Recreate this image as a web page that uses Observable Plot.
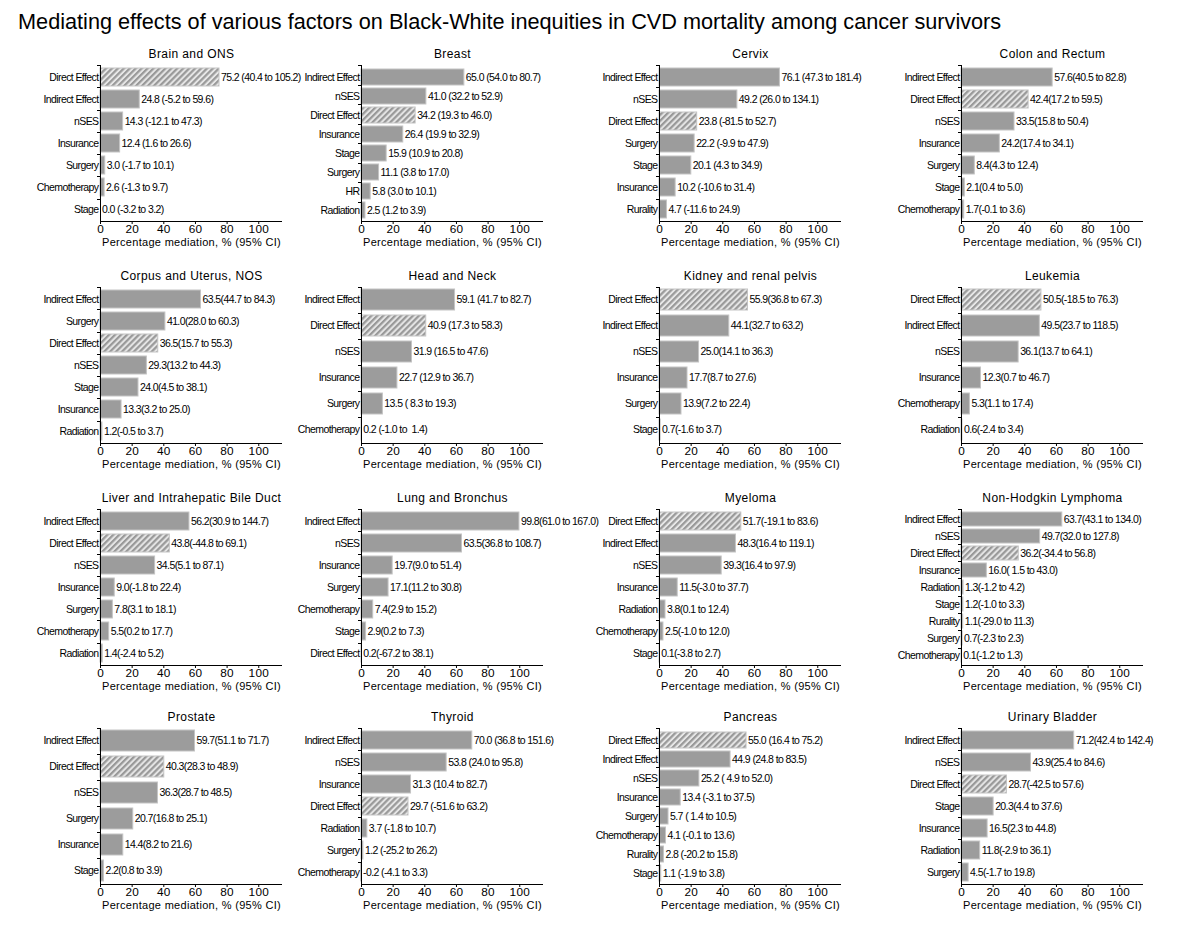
<!DOCTYPE html>
<html>
<head>
<meta charset="utf-8">
<script src="https://cdn.jsdelivr.net/npm/d3@7"></script>
<script src="https://cdn.jsdelivr.net/npm/@observablehq/plot@0.6"></script>
<style>
  body { margin: 0; background: #fff; }
  #root { position: relative; width: 1200px; height: 927px; overflow: hidden; background: #fff; font-family: "Liberation Sans", Arial, sans-serif; }
  #title { position: absolute; left: 18px; top: 11px; font-size: 21.7px; line-height: 22px; white-space: nowrap; color: #000; }
  .panel { position: absolute; }
  .panel svg { overflow: visible; }
  g[aria-label="x-axis tick label"] text { letter-spacing: 0.2px; }
</style>
</head>
<body>
<svg width="0" height="0" style="position:absolute">
  <defs>
    <pattern id="hatch" patternUnits="userSpaceOnUse" width="4.2" height="4.2" patternTransform="rotate(45)">
      <rect width="4.2" height="4.2" fill="#e6e6e6"></rect>
      <rect width="2.2" height="4.2" fill="#999999"></rect>
    </pattern>
  </defs>
</svg>
<div id="root">
  <div id="title">Mediating effects of various factors on Black-White inequities in CVD mortality among cancer survivors</div>
</div>
<script>
const panelTitles = [
  "Brain and ONS", "Breast", "Cervix", "Colon and Rectum",
  "Corpus and Uterus, NOS", "Head and Neck", "Kidney and renal pelvis", "Leukemia",
  "Liver and Intrahepatic Bile Duct", "Lung and Bronchus", "Myeloma", "Non-Hodgkin Lymphoma",
  "Prostate", "Thyroid", "Pancreas", "Urinary Bladder"
];

const factorLabels = [
  ["Direct Effect", "Indirect Effect", "nSES", "Insurance", "Surgery", "Chemotherapy", "Stage"],
  ["Indirect Effect", "nSES", "Direct Effect", "Insurance", "Stage", "Surgery", "HR", "Radiation"],
  ["Indirect Effect", "nSES", "Direct Effect", "Surgery", "Stage", "Insurance", "Rurality"],
  ["Indirect Effect", "Direct Effect", "nSES", "Insurance", "Surgery", "Stage", "Chemotherapy"],
  ["Indirect Effect", "Surgery", "Direct Effect", "nSES", "Stage", "Insurance", "Radiation"],
  ["Indirect Effect", "Direct Effect", "nSES", "Insurance", "Surgery", "Chemotherapy"],
  ["Direct Effect", "Indirect Effect", "nSES", "Insurance", "Surgery", "Stage"],
  ["Direct Effect", "Indirect Effect", "nSES", "Insurance", "Chemotherapy", "Radiation"],
  ["Indirect Effect", "Direct Effect", "nSES", "Insurance", "Surgery", "Chemotherapy", "Radiation"],
  ["Indirect Effect", "nSES", "Insurance", "Surgery", "Chemotherapy", "Stage", "Direct Effect"],
  ["Direct Effect", "Indirect Effect", "nSES", "Insurance", "Radiation", "Chemotherapy", "Stage"],
  ["Indirect Effect", "nSES", "Direct Effect", "Insurance", "Radiation", "Stage", "Rurality", "Surgery", "Chemotherapy"],
  ["Indirect Effect", "Direct Effect", "nSES", "Surgery", "Insurance", "Stage"],
  ["Indirect Effect", "nSES", "Insurance", "Direct Effect", "Radiation", "Surgery", "Chemotherapy"],
  ["Direct Effect", "Indirect Effect", "nSES", "Insurance", "Surgery", "Chemotherapy", "Rurality", "Stage"],
  ["Indirect Effect", "nSES", "Direct Effect", "Stage", "Insurance", "Radiation", "Surgery"]
];

const mediationValues = [
  [75.2, 24.8, 14.3, 12.4, 3.0, 2.6, 0.0],
  [65.0, 41.0, 34.2, 26.4, 15.9, 11.1, 5.8, 2.5],
  [76.1, 49.2, 23.8, 22.2, 20.1, 10.2, 4.7],
  [57.6, 42.4, 33.5, 24.2, 8.4, 2.1, 1.7],
  [63.5, 41.0, 36.5, 29.3, 24.0, 13.3, 1.2],
  [59.1, 40.9, 31.9, 22.7, 13.5, 0.2],
  [55.9, 44.1, 25.0, 17.7, 13.9, 0.7],
  [50.5, 49.5, 36.1, 12.3, 5.3, 0.6],
  [56.2, 43.8, 34.5, 9.0, 7.8, 5.5, 1.4],
  [99.8, 63.5, 19.7, 17.1, 7.4, 2.9, 0.2],
  [51.7, 48.3, 39.3, 11.5, 3.8, 2.5, 0.1],
  [63.7, 49.7, 36.2, 16.0, 1.3, 1.2, 1.1, 0.7, 0.1],
  [59.7, 40.3, 36.3, 20.7, 14.4, 2.2],
  [70.0, 53.8, 31.3, 29.7, 3.7, 1.2, -0.2],
  [55.0, 44.9, 25.2, 13.4, 5.7, 4.1, 2.8, 1.1],
  [71.2, 43.9, 28.7, 20.3, 16.5, 11.8, 4.5]
];

const ciLabels = [
  [" (40.4 to 105.2)", " (-5.2 to 59.6)", " (-12.1 to 47.3)", " (1.6 to 26.6)", " (-1.7 to 10.1)", " (-1.3 to 9.7)", " (-3.2 to 3.2)"],
  [" (54.0 to 80.7)", " (32.2 to 52.9)", " (19.3 to 46.0)", " (19.9 to 32.9)", " (10.9 to 20.8)", " (3.8 to 17.0)", " (3.0 to 10.1)", " (1.2 to 3.9)"],
  [" (47.3 to 181.4)", " (26.0 to 134.1)", " (-81.5 to 52.7)", " (-9.9 to 47.9)", " (4.3 to 34.9)", " (-10.6 to 31.4)", " (-11.6 to 24.9)"],
  ["(40.5 to 82.8)", "(17.2 to 59.5)", "(15.8 to 50.4)", "(17.4 to 34.1)", "(4.3 to 12.4)", "(0.4 to 5.0)", "(-0.1 to 3.6)"],
  ["(44.7 to 84.3)", "(28.0 to 60.3)", "(15.7 to 55.3)", "(13.2 to 44.3)", "(4.5 to 38.1)", "(3.2 to 25.0)", "(-0.5 to 3.7)"],
  [" (41.7 to 82.7)", " (17.3 to 58.3)", " (16.5 to 47.6)", " (12.9 to 36.7)", " ( 8.3 to 19.3)", " (-1.0 to  1.4)"],
  ["(36.8 to 67.3)", "(32.7 to 63.2)", "(14.1 to 36.3)", "(8.7 to 27.6)", "(7.2 to 22.4)", "(-1.6 to 3.7)"],
  ["(-18.5 to 76.3)", "(23.7 to 118.5)", "(13.7 to 64.1)", "(0.7 to 46.7)", "(1.1 to 17.4)", "(-2.4 to 3.4)"],
  ["(30.9 to 144.7)", "(-44.8 to 69.1)", "(5.1 to 87.1)", "(-1.8 to 22.4)", "(3.1 to 18.1)", "(0.2 to 17.7)", "(-2.4 to 5.2)"],
  ["(61.0 to 167.0)", "(36.8 to 108.7)", "(9.0 to 51.4)", "(11.2 to 30.8)", "(2.9 to 15.2)", "(0.2 to 7.3)", "(-67.2 to 38.1)"],
  ["(-19.1 to 83.6)", "(16.4 to 119.1)", "(16.4 to 97.9)", "(-3.0 to 37.7)", "(0.1 to 12.4)", "(-1.0 to 12.0)", "(-3.8 to 2.7)"],
  ["(43.1 to 134.0)", "(32.0 to 127.8)", "(-34.4 to 56.8)", "( 1.5 to 43.0)", "(-1.2 to 4.2)", "(-1.0 to 3.3)", "(-29.0 to 11.3)", "(-2.3 to 2.3)", "(-1.2 to 1.3)"],
  ["(51.1 to 71.7)", "(28.3 to 48.9)", "(28.7 to 48.5)", "(16.8 to 25.1)", "(8.2 to 21.6)", "(0.8 to 3.9)"],
  [" (36.8 to 151.6)", " (24.0 to 95.8)", " (10.4 to 82.7)", " (-51.6 to 63.2)", " (-1.8 to 10.7)", " (-25.2 to 26.2)", " (-4.1 to 3.3)"],
  [" (16.4 to 75.2)", " (24.8 to 83.5)", " ( 4.9 to 52.0)", " (-3.1 to 37.5)", " ( 1.4 to 10.5)", " (-0.1 to 13.6)", " (-20.2 to 15.8)", " (-1.9 to 3.8)"],
  ["(42.4 to 142.4)", "(25.4 to 84.6)", "(-42.5 to 57.6)", "(4.4 to 37.6)", "(2.3 to 44.8)", "(-2.9 to 36.1)", "(-1.7 to 19.8)"]
];

const xTicks = [0, 20, 40, 60, 80, 100];
const xAxisLabel = "Percentage mediation, % (95% CI)";
const directLabel = "Direct Effect";

// layout
const PW = 182, PH = 156, ML = 80, MR = 10, MT = 25, MB = 35;
const colX = [100, 361, 659, 961];
const rowTop = [65, 287, 509, 728];
const FONT = '"Liberation Sans", Arial, sans-serif';
// letter-spacing for the text marks, in mark order: value labels, factor labels, panel title, x label
const textSpacing = ["-0.6px", "-0.6px", "0.4px", "0.3px"];

function axisLines(n) {
  return (index, scales, values, dims) => {
    const d = dims || {};
    const left = d.marginLeft ?? ML;
    const top = d.marginTop ?? MT;
    const bottom = (d.height ?? (MT + PH + MB)) - (d.marginBottom ?? MB);
    const right = (d.width ?? (ML + PW + MR)) - (d.marginRight ?? MR);
    const g = d3.create("svg:g").attr("stroke", "#000").attr("stroke-width", 1).attr("fill", "none");
    g.append("line").attr("x1", left + 0.5).attr("x2", left + 0.5).attr("y1", top).attr("y2", bottom + 0.5);
    g.append("line").attr("x1", left).attr("x2", right).attr("y1", bottom + 0.5).attr("y2", bottom + 0.5);
    for (let k = 0; k < n; k++) {
      const y = Math.round(top + (bottom - top) * k / n) + 0.5;
      g.append("line").attr("x1", left - 3).attr("x2", left + 0.5).attr("y1", y).attr("y2", y);
    }
    return g.node();
  };
}

const root = document.getElementById("root");

panelTitles.forEach((title, i) => {
  const rows = factorLabels[i].map((f, j) => ({
    factor: f,
    value: mediationValues[i][j],
    label: mediationValues[i][j].toFixed(1) + ciLabels[i][j]
  }));
  const n = rows.length;
  const chart = Plot.plot({
    width: ML + PW + MR,
    height: MT + PH + MB,
    marginLeft: ML, marginRight: MR, marginTop: MT, marginBottom: MB,
    style: { background: "transparent", overflow: "visible", fontFamily: FONT, fontSize: "11.8px", color: "#000" },
    x: { domain: [0, 115] },
    y: { domain: factorLabels[i], paddingInner: 0.18, paddingOuter: 0.09, axis: null },
    marks: [
      Plot.barX(rows.filter(d => d.factor !== directLabel), { x: "value", y: "factor", fill: "#9c9c9c", stroke: "#c4c4c4", strokeWidth: 1 }),
      Plot.barX(rows.filter(d => d.factor === directLabel), { x: "value", y: "factor", fill: "url(#hatch)", stroke: "#c4c4c4", strokeWidth: 1 }),
      Plot.text(rows, { x: d => Math.max(0, d.value), y: "factor", text: "label", textAnchor: "start", dx: 1.5, fontSize: 10.5, fill: "#000" }),
      Plot.text(rows, { x: 0, y: "factor", text: "factor", textAnchor: "end", dx: -2, fontSize: 10.5, fill: "#000" }),
      axisLines(n),
      Plot.axisX({ ticks: xTicks, tickSize: 3, tickPadding: 0, label: null, tickFormat: d => String(d) }),
      Plot.text([title], { frameAnchor: "top", lineAnchor: "middle", dy: -11, text: d => d, fontSize: 12, fill: "#000" }),
      Plot.text([xAxisLabel], { frameAnchor: "bottom", lineAnchor: "middle", dy: 21, text: d => d, fontSize: 11, fill: "#000" })
    ]
  });
  // apply letter-spacing to each text mark group (in mark order)
  const groups = chart.querySelectorAll('g[aria-label="text"]');
  groups.forEach((g, k) => { if (textSpacing[k]) g.style.letterSpacing = textSpacing[k]; });

  const wrap = document.createElement("div");
  wrap.className = "panel";
  const c = i % 4, r = Math.floor(i / 4);
  wrap.style.left = (colX[c] - ML) + "px";
  wrap.style.top = (rowTop[r] - MT) + "px";
  wrap.appendChild(chart);
  root.appendChild(wrap);
});
</script>
</body>
</html>
